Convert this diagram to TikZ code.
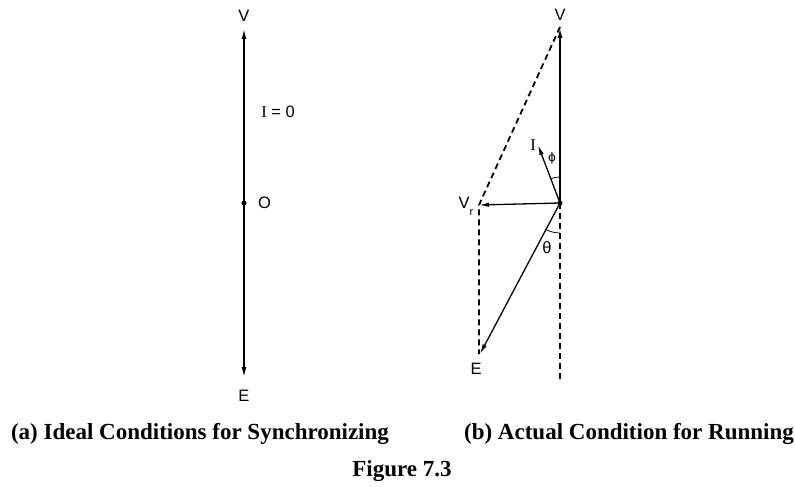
\documentclass[tikz,border=0pt]{standalone}
\usepackage{fontspec}
\setmainfont{Liberation Sans}
\newfontfamily\capfont{Liberation Serif}
\newfontfamily\grkfont{DejaVu Sans}
\usetikzlibrary{arrows.meta,positioning}

\begin{document}
\begin{tikzpicture}[
  x=1pt,y=-1pt,
  phasor/.style={-{Latex[length=11pt,width=5pt]},line width=1.8pt},
  slim/.style={-{Latex[length=10pt,width=4.5pt]},line width=1.3pt},
  guide/.style={line width=1.8pt,dash pattern=on 6pt off 4pt},
  lbl/.style={font=\fontsize{16.5}{19}\selectfont,inner sep=0pt},
  caption/.style={font=\capfont\bfseries\fontsize{23}{26}\selectfont,inner sep=0pt,anchor=base}
]
\useasboundingbox (0,0) rectangle (795,487);
% (a) ideal conditions
\coordinate (O1) at (244,203);
\coordinate (V1) at (244,28);
\coordinate (E1) at (244,378);
\draw[phasor] (O1) -- (V1);
\draw[phasor] (O1) -- (E1);
\fill (O1) circle (2.5);
\node[lbl] (v1lbl) at (244,16) {V};
\node[lbl] (e1lbl) at (244,396) {E};
\node[lbl,right=14pt of O1] (o1lbl) {O};
\node[lbl] (ilbl) at (278,112) {{\capfont I} = 0};
% (b) actual condition
\coordinate (O2) at (560,203);
\coordinate (V2) at (560,27);
\coordinate (Vr) at (479,205);
\coordinate (E2) at (480,354);
\coordinate (I2) at (538,145);
\coordinate (B2) at (560,380);
\draw[guide] (V2) -- (Vr) -- (Vr |- E2);
\draw[guide] (O2) -- (B2);
\draw[phasor] (O2) -- (V2);
\draw[slim] (O2) -- (Vr);
\draw[slim] (O2) -- (I2);
\draw[slim] (O2) -- (E2);
\fill (O2) circle (2.5);
\draw[line width=0.8pt] ([shift={(-90:26)}]O2) arc[start angle=-90,end angle=-111,radius=26];
\draw[line width=0.8pt] ([shift={(90:30)}]O2) arc[start angle=90,end angle=118,radius=30];
\node[lbl] (v2lbl) at (560,15) {V};
\node[lbl] (vrlbl) at (466,206) {V\raisebox{-7pt}{\fontsize{11}{13}\selectfont r}};
\node[lbl] (e2lbl) at (476,369) {E};
\node[lbl,left=2pt of I2] (i2lbl) {\capfont I};
\node[lbl,font=\grkfont\fontsize{12}{14}\selectfont] (philbl) at (552,158) {ϕ};
\node[lbl] (thetalbl) at (547,248) {θ};
% captions
\node[caption] (capa) at (200,439) {(a) Ideal Conditions for Synchronizing};
\node[caption] (capb) at (629,439) {(b) Actual Condition for Running};
\node[caption] (fig) at (402,476) {Figure 7.3};
\end{tikzpicture}
\end{document}
